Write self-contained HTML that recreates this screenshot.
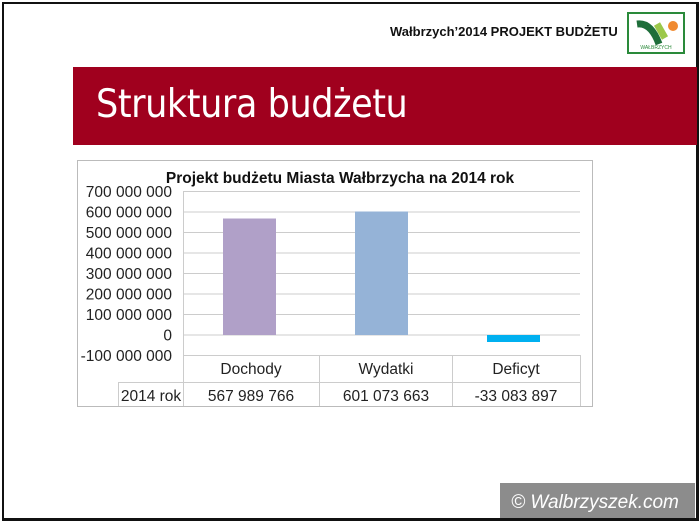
<!DOCTYPE html>
<html><head><meta charset="utf-8"><style>
body{margin:0;width:700px;height:523px;background:#fff;overflow:hidden;position:relative;font-family:"Liberation Sans",sans-serif}
.a{position:absolute}
</style></head><body>
<div class="a" style="left:2px;top:2px;width:692px;height:514px;border:2px solid #111;border-right-width:3px;border-bottom-width:3px"></div>
<div class="a" style="left:390px;top:24px;font-weight:bold;font-size:13px;color:#111;white-space:nowrap">Wałbrzych’2014 PROJEKT BUDŻETU</div>
<div class="a" style="left:627px;top:12px;width:54px;height:38px;border:2px solid #2a8a3a;background:#fff">
<svg width="54" height="38"><path d="M8 10 Q22 8 30 30" stroke="#1e6e3a" stroke-width="7" fill="none"/><path d="M28 10 L36 24" stroke="#9bc84a" stroke-width="7"/><circle cx="44" cy="12" r="5" fill="#f08a30"/><text x="27" y="35" font-size="5" text-anchor="middle" fill="#2a8a3a">WAŁBRZYCH</text></svg></div>
<div class="a" style="left:73px;top:67px;width:624px;height:78px;background:#a0001e"></div>
<div class="a" style="left:96px;top:82px;font-size:39px;color:#fff;font-family:'DejaVu Sans','Liberation Sans',sans-serif;letter-spacing:-0.5px;transform:scaleX(0.9);transform-origin:0 0;white-space:nowrap">Struktura budżetu</div>
<svg class="a" style="left:0;top:0" width="700" height="523">
<rect x="77.5" y="160.5" width="515" height="246" fill="#fff" stroke="#bbb"/>
<g stroke="#ccc" stroke-width="1">
<line x1="183" y1="191.5" x2="580" y2="191.5"/><line x1="183" y1="212" x2="580" y2="212"/><line x1="183" y1="232.5" x2="580" y2="232.5"/><line x1="183" y1="253" x2="580" y2="253"/><line x1="183" y1="273.5" x2="580" y2="273.5"/><line x1="183" y1="294" x2="580" y2="294"/><line x1="183" y1="314.5" x2="580" y2="314.5"/><line x1="183" y1="335" x2="580" y2="335"/><line x1="183" y1="355.5" x2="580" y2="355.5"/>
<line x1="183.5" y1="191" x2="183.5" y2="406"/>
<line x1="118" y1="382.5" x2="580" y2="382.5"/>
<line x1="118.5" y1="382" x2="118.5" y2="406"/>
<line x1="319.5" y1="355" x2="319.5" y2="406"/><line x1="452.5" y1="355" x2="452.5" y2="406"/><line x1="580.5" y1="355" x2="580.5" y2="406"/>
</g>
<rect x="223" y="218.5" width="53" height="116.5" fill="#b0a0c8"/>
<rect x="355" y="211.5" width="53" height="123.5" fill="#95b3d7"/>
<rect x="487" y="335" width="53" height="7" fill="#00b0f0"/>
<text x="340" y="183" font-size="15.5" font-weight="bold" text-anchor="middle" fill="#111">Projekt budżetu Miasta Wałbrzycha na 2014 rok</text>
<g font-size="15.5" fill="#222" text-anchor="end">
<text x="172" y="197">700 000 000</text><text x="172" y="217.5">600 000 000</text><text x="172" y="238">500 000 000</text><text x="172" y="258.5">400 000 000</text><text x="172" y="279">300 000 000</text><text x="172" y="299.5">200 000 000</text><text x="172" y="320">100 000 000</text><text x="172" y="340.5">0</text><text x="172" y="361">-100 000 000</text>
</g>
<g font-size="15.5" fill="#222" text-anchor="middle">
<text x="251" y="374">Dochody</text><text x="386" y="374">Wydatki</text><text x="516" y="374">Deficyt</text>
<text x="151" y="401">2014 rok</text><text x="251" y="401">567 989 766</text><text x="386" y="401">601 073 663</text><text x="516" y="401">-33 083 897</text>
</g>
<rect x="500" y="483" width="195" height="35" fill="#8c8c8c"/>
<text x="595" y="508" font-size="19" font-style="italic" fill="#fff" text-anchor="middle">© Walbrzyszek.com</text>
</svg>
</body></html>
